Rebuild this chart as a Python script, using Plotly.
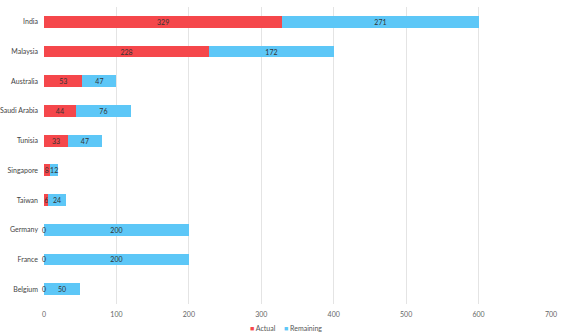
import plotly.graph_objects as go

countries = ["India", "Malaysia", "Australia", "Saudi Arabia", "Tunisia",
             "Singapore", "Taiwan", "Germany", "France", "Belgium"]
actual = [329, 228, 53, 44, 33, 8, 6, 0, 0, 0]
remaining = [271, 172, 47, 76, 47, 12, 24, 200, 200, 50]
x_ticks = [0, 100, 200, 300, 400, 500, 600, 700]
series_names = ["Actual", "Remaining"]

FONT = "Lato"
RED = "#F5474B"
BLUE = "#5DC7F7"
LABEL = "#333333"

fig = go.Figure()
for name, vals, col in ((series_names[0], actual, RED),
                        (series_names[1], remaining, BLUE)):
    fig.add_trace(go.Bar(
        y=countries, x=vals, name=name, orientation="h",
        marker=dict(color=col, line=dict(width=0)), showlegend=False,
        text=[str(v) if v else "" for v in vals],
        textposition="inside", insidetextanchor="middle", textangle=0,
        textfont=dict(size=7, color=LABEL, family=FONT),
    ))

# zero-valued "Actual" segments still get their label at the baseline
for c, v in zip(countries, actual):
    if v == 0:
        fig.add_annotation(x=v, y=c, text=str(v), showarrow=False,
                           xanchor="center", yanchor="middle",
                           font=dict(size=7, color=LABEL, family=FONT))

# compact legend line under the axis
legend_text = "\u2003\u2002".join(
    f"<span style='color:{c}'>■</span>\u00a0{n}"
    for n, c in zip(series_names, (RED, BLUE)))
fig.add_annotation(xref="paper", yref="paper", x=0.478, y=-0.082,
                   xanchor="center", yanchor="middle", showarrow=False,
                   text=legend_text,
                   font=dict(size=7, color="#555555", family=FONT))

fig.update_layout(
    barmode="stack",
    bargap=0.6,
    width=564, height=334,
    margin=dict(l=44, r=13, t=7, b=30, autoexpand=False),
    paper_bgcolor="white", plot_bgcolor="white",
    font=dict(family=FONT, size=7, color="#555555"),
    uniformtext=dict(minsize=7, mode="show"),
    showlegend=False,
    xaxis=dict(range=[0, 700], tickvals=x_ticks, showgrid=True,
               gridcolor="#E4E4E4", gridwidth=1, zeroline=False,
               showline=False, ticks="", automargin=False,
               ticklabelstandoff=5,
               tickfont=dict(size=7, color="#666666")),
    yaxis=dict(autorange="reversed", showgrid=False, zeroline=False,
               showline=False, ticks="", ticklabelstandoff=5,
               automargin=False,
               tickfont=dict(size=7, color="#444444")),
)

fig.write_html("out.html")
